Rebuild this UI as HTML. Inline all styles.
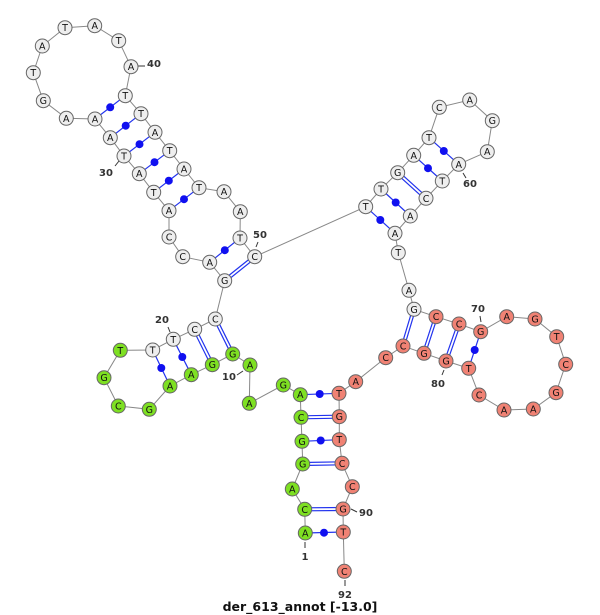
<!DOCTYPE html>
<html><head><meta charset="utf-8"><style>
html,body{margin:0;padding:0;background:#fff;}
svg{display:block}
.n circle{stroke:#666;stroke-width:1}
.w circle{fill:#eeeeee}.g circle{fill:#7ee022}.r circle{fill:#f08274}
.n text{font-family:"DejaVu Sans","Liberation Sans",sans-serif;font-size:9.5px;text-anchor:middle;fill:#111}
.lb{font-family:"DejaVu Sans","Liberation Sans",sans-serif;font-size:10px;font-weight:bold;fill:#333;text-anchor:middle}
.bp{stroke:#2233ee;stroke-width:1.2;fill:none}
.tk{stroke:#333;stroke-width:1}
</style></head><body>
<svg width="600" height="615" viewBox="0 0 600 615" xmlns="http://www.w3.org/2000/svg">
<polyline fill="none" stroke="#888" stroke-width="1" points="305.3,533 304.7,509.3 292.3,489 302.7,464 302,441.3 301,417.3 300.3,394.7 283.3,385 249.3,403.3 250,365 232.7,354 212.3,364.7 191.3,374.7 170,386 149.3,409.3 118.3,406 104,377.7 120.3,350.3 152.7,350 173.3,339.3 194.7,329.3 215.3,319 224.7,280.7 209.7,262.3 182.7,256.7 169,237 169,210.7 153.7,192.3 139.3,173.7 124,156 110.3,137.7 95,119 66.3,118.3 43.3,100.7 33.3,72.7 42.3,46 65,27.7 94.7,25.7 118.7,40.7 131,66.7 125.3,95.7 141,113.7 155,132.3 169.7,150.7 184,169 199,187.7 224,191.7 240.3,211.7 240,238 254.7,256.7 365.7,206.7 381,189 397.7,172.7 413.7,155.3 429,137.7 439.3,107.3 469.7,100 492.3,120.7 487.3,151.7 458.7,164.3 442.3,181 426,198.3 410.3,216 395,233.3 398.3,252.7 409,290.3 414,309.3 436,316.7 459,324 480.7,331.7 506.7,316.7 535,319 556.7,336.7 565.7,364.3 556,392.7 533.3,409 504,410 479,395 468.7,368.3 446,361 424,353.3 403,346 385.7,357.7 355.7,381.7 339,393.3 339.3,416.7 339.3,439.7 342,463.3 352.3,486.7 343,509 343.3,532 344.3,571.3"/>
<g class="bp">
<line x1="305.3" y1="533" x2="343.3" y2="532"/>
<line x1="302" y1="441.3" x2="339.3" y2="439.7"/>
<line x1="300.3" y1="394.7" x2="339" y2="393.3"/>
<line x1="191.3" y1="374.7" x2="173.3" y2="339.3"/>
<line x1="170" y1="386" x2="152.7" y2="350"/>
<line x1="209.7" y1="262.3" x2="240" y2="238"/>
<line x1="169" y1="210.7" x2="199" y2="187.7"/>
<line x1="153.7" y1="192.3" x2="184" y2="169"/>
<line x1="139.3" y1="173.7" x2="169.7" y2="150.7"/>
<line x1="124" y1="156" x2="155" y2="132.3"/>
<line x1="110.3" y1="137.7" x2="141" y2="113.7"/>
<line x1="95" y1="119" x2="125.3" y2="95.7"/>
<line x1="365.7" y1="206.7" x2="395" y2="233.3"/>
<line x1="381" y1="189" x2="410.3" y2="216"/>
<line x1="413.7" y1="155.3" x2="442.3" y2="181"/>
<line x1="429" y1="137.7" x2="458.7" y2="164.3"/>
<line x1="480.7" y1="331.7" x2="468.7" y2="368.3"/>
<!-- doubles -->
<line x1="304.7" y1="507.8" x2="343" y2="507.5"/><line x1="304.7" y1="510.8" x2="343" y2="510.5"/>
<line x1="302.7" y1="462.5" x2="342" y2="461.8"/><line x1="302.7" y1="465.5" x2="342" y2="464.8"/>
<line x1="301" y1="415.8" x2="339.3" y2="415.2"/><line x1="301" y1="418.8" x2="339.3" y2="418.2"/>
<line x1="234" y1="353.3" x2="216.6" y2="318.3"/><line x1="231.4" y1="354.7" x2="214" y2="319.7"/>
<line x1="213.6" y1="364" x2="196" y2="328.6"/><line x1="211" y1="365.4" x2="193.4" y2="330"/>
<line x1="225.6" y1="281.9" x2="255.6" y2="257.9"/><line x1="223.8" y1="279.5" x2="253.8" y2="255.5"/>
<line x1="398.7" y1="171.6" x2="427" y2="197.2"/><line x1="396.7" y1="173.8" x2="425" y2="199.4"/>
<line x1="415.4" y1="309.7" x2="404.4" y2="346.4"/><line x1="412.6" y1="308.9" x2="401.6" y2="345.6"/>
<line x1="437.4" y1="317.1" x2="425.4" y2="353.7"/><line x1="434.6" y1="316.3" x2="422.6" y2="352.9"/>
<line x1="460.4" y1="324.4" x2="447.4" y2="361.4"/><line x1="457.6" y1="323.6" x2="444.6" y2="360.6"/>
</g>
<g fill="#1010f0">
<circle cx="324" cy="532.7" r="4"/><circle cx="320.7" cy="440.5" r="4"/><circle cx="319.7" cy="394" r="4"/>
<circle cx="182.3" cy="357" r="4"/><circle cx="161.3" cy="368" r="4"/><circle cx="224.8" cy="250.2" r="4"/>
<circle cx="184" cy="199.2" r="4"/><circle cx="168.8" cy="180.7" r="4"/><circle cx="154.5" cy="162.2" r="4"/>
<circle cx="139.5" cy="144.2" r="4"/><circle cx="125.7" cy="125.7" r="4"/><circle cx="110.2" cy="107.3" r="4"/>
<circle cx="380.3" cy="220" r="4"/><circle cx="395.7" cy="202.5" r="4"/><circle cx="428" cy="168.2" r="4"/>
<circle cx="443.8" cy="151" r="4"/><circle cx="474.7" cy="350" r="4"/>
</g>
<g class="tk">
<line x1="138" y1="66" x2="145" y2="66"/><line x1="115" y1="166" x2="119" y2="161"/>
<line x1="256" y1="247" x2="258" y2="242"/><line x1="466" y1="178" x2="463" y2="173"/>
<line x1="480" y1="316" x2="481" y2="322"/><line x1="442" y1="375" x2="444" y2="370"/>
<line x1="168" y1="327" x2="170" y2="332"/><line x1="237" y1="375" x2="243" y2="371"/>
<line x1="305" y1="542" x2="305" y2="548"/><line x1="351" y1="509" x2="357" y2="512"/>
<line x1="345" y1="580" x2="345" y2="586"/>
</g>
<g class="lb">
<text x="154" y="67">40</text><text x="106" y="176">30</text><text x="260" y="238">50</text>
<text x="470" y="187">60</text><text x="478" y="312">70</text><text x="438" y="387">80</text>
<text x="162" y="323">20</text><text x="229" y="380">10</text><text x="305" y="560">1</text>
<text x="366" y="516">90</text><text x="345" y="598">92</text>
</g>
<g class="n g"><g transform="translate(305.3,533)"><circle r="7"/><text y="3.5">A</text></g>
<g transform="translate(304.7,509.3)"><circle r="7"/><text y="3.5">C</text></g>
<g transform="translate(292.3,489)"><circle r="7"/><text y="3.5">A</text></g>
<g transform="translate(302.7,464)"><circle r="7"/><text y="3.5">G</text></g>
<g transform="translate(302,441.3)"><circle r="7"/><text y="3.5">G</text></g>
<g transform="translate(301,417.3)"><circle r="7"/><text y="3.5">C</text></g>
<g transform="translate(300.3,394.7)"><circle r="7"/><text y="3.5">A</text></g>
<g transform="translate(283.3,385)"><circle r="7"/><text y="3.5">G</text></g>
<g transform="translate(249.3,403.3)"><circle r="7"/><text y="3.5">A</text></g>
<g transform="translate(250,365)"><circle r="7"/><text y="3.5">A</text></g>
<g transform="translate(232.7,354)"><circle r="7"/><text y="3.5">G</text></g>
<g transform="translate(212.3,364.7)"><circle r="7"/><text y="3.5">G</text></g>
<g transform="translate(191.3,374.7)"><circle r="7"/><text y="3.5">A</text></g>
<g transform="translate(170,386)"><circle r="7"/><text y="3.5">A</text></g>
<g transform="translate(149.3,409.3)"><circle r="7"/><text y="3.5">G</text></g>
<g transform="translate(118.3,406)"><circle r="7"/><text y="3.5">C</text></g>
<g transform="translate(104,377.7)"><circle r="7"/><text y="3.5">G</text></g>
<g transform="translate(120.3,350.3)"><circle r="7"/><text y="3.5">T</text></g></g>
<g class="n w"><g transform="translate(152.7,350)"><circle r="7"/><text y="3.5">T</text></g>
<g transform="translate(173.3,339.3)"><circle r="7"/><text y="3.5">T</text></g>
<g transform="translate(194.7,329.3)"><circle r="7"/><text y="3.5">C</text></g>
<g transform="translate(215.3,319)"><circle r="7"/><text y="3.5">C</text></g>
<g transform="translate(224.7,280.7)"><circle r="7"/><text y="3.5">G</text></g>
<g transform="translate(209.7,262.3)"><circle r="7"/><text y="3.5">A</text></g>
<g transform="translate(182.7,256.7)"><circle r="7"/><text y="3.5">C</text></g>
<g transform="translate(169,237)"><circle r="7"/><text y="3.5">C</text></g>
<g transform="translate(169,210.7)"><circle r="7"/><text y="3.5">A</text></g>
<g transform="translate(153.7,192.3)"><circle r="7"/><text y="3.5">T</text></g>
<g transform="translate(139.3,173.7)"><circle r="7"/><text y="3.5">A</text></g>
<g transform="translate(124,156)"><circle r="7"/><text y="3.5">T</text></g>
<g transform="translate(110.3,137.7)"><circle r="7"/><text y="3.5">A</text></g>
<g transform="translate(95,119)"><circle r="7"/><text y="3.5">A</text></g>
<g transform="translate(66.3,118.3)"><circle r="7"/><text y="3.5">A</text></g>
<g transform="translate(43.3,100.7)"><circle r="7"/><text y="3.5">G</text></g>
<g transform="translate(33.3,72.7)"><circle r="7"/><text y="3.5">T</text></g>
<g transform="translate(42.3,46)"><circle r="7"/><text y="3.5">A</text></g>
<g transform="translate(65,27.7)"><circle r="7"/><text y="3.5">T</text></g>
<g transform="translate(94.7,25.7)"><circle r="7"/><text y="3.5">A</text></g>
<g transform="translate(118.7,40.7)"><circle r="7"/><text y="3.5">T</text></g>
<g transform="translate(131,66.7)"><circle r="7"/><text y="3.5">A</text></g>
<g transform="translate(125.3,95.7)"><circle r="7"/><text y="3.5">T</text></g>
<g transform="translate(141,113.7)"><circle r="7"/><text y="3.5">T</text></g>
<g transform="translate(155,132.3)"><circle r="7"/><text y="3.5">A</text></g>
<g transform="translate(169.7,150.7)"><circle r="7"/><text y="3.5">T</text></g>
<g transform="translate(184,169)"><circle r="7"/><text y="3.5">A</text></g>
<g transform="translate(199,187.7)"><circle r="7"/><text y="3.5">T</text></g>
<g transform="translate(224,191.7)"><circle r="7"/><text y="3.5">A</text></g>
<g transform="translate(240.3,211.7)"><circle r="7"/><text y="3.5">A</text></g>
<g transform="translate(240,238)"><circle r="7"/><text y="3.5">T</text></g>
<g transform="translate(254.7,256.7)"><circle r="7"/><text y="3.5">C</text></g>
<g transform="translate(365.7,206.7)"><circle r="7"/><text y="3.5">T</text></g>
<g transform="translate(381,189)"><circle r="7"/><text y="3.5">T</text></g>
<g transform="translate(397.7,172.7)"><circle r="7"/><text y="3.5">G</text></g>
<g transform="translate(413.7,155.3)"><circle r="7"/><text y="3.5">A</text></g>
<g transform="translate(429,137.7)"><circle r="7"/><text y="3.5">T</text></g>
<g transform="translate(439.3,107.3)"><circle r="7"/><text y="3.5">C</text></g>
<g transform="translate(469.7,100)"><circle r="7"/><text y="3.5">A</text></g>
<g transform="translate(492.3,120.7)"><circle r="7"/><text y="3.5">G</text></g>
<g transform="translate(487.3,151.7)"><circle r="7"/><text y="3.5">A</text></g>
<g transform="translate(458.7,164.3)"><circle r="7"/><text y="3.5">A</text></g>
<g transform="translate(442.3,181)"><circle r="7"/><text y="3.5">T</text></g>
<g transform="translate(426,198.3)"><circle r="7"/><text y="3.5">C</text></g>
<g transform="translate(410.3,216)"><circle r="7"/><text y="3.5">A</text></g>
<g transform="translate(395,233.3)"><circle r="7"/><text y="3.5">A</text></g>
<g transform="translate(398.3,252.7)"><circle r="7"/><text y="3.5">T</text></g>
<g transform="translate(409,290.3)"><circle r="7"/><text y="3.5">A</text></g>
<g transform="translate(414,309.3)"><circle r="7"/><text y="3.5">G</text></g></g>
<g class="n r"><g transform="translate(436,316.7)"><circle r="7"/><text y="3.5">C</text></g>
<g transform="translate(459,324)"><circle r="7"/><text y="3.5">C</text></g>
<g transform="translate(480.7,331.7)"><circle r="7"/><text y="3.5">G</text></g>
<g transform="translate(506.7,316.7)"><circle r="7"/><text y="3.5">A</text></g>
<g transform="translate(535,319)"><circle r="7"/><text y="3.5">G</text></g>
<g transform="translate(556.7,336.7)"><circle r="7"/><text y="3.5">T</text></g>
<g transform="translate(565.7,364.3)"><circle r="7"/><text y="3.5">C</text></g>
<g transform="translate(556,392.7)"><circle r="7"/><text y="3.5">G</text></g>
<g transform="translate(533.3,409)"><circle r="7"/><text y="3.5">A</text></g>
<g transform="translate(504,410)"><circle r="7"/><text y="3.5">A</text></g>
<g transform="translate(479,395)"><circle r="7"/><text y="3.5">C</text></g>
<g transform="translate(468.7,368.3)"><circle r="7"/><text y="3.5">T</text></g>
<g transform="translate(446,361)"><circle r="7"/><text y="3.5">G</text></g>
<g transform="translate(424,353.3)"><circle r="7"/><text y="3.5">G</text></g>
<g transform="translate(403,346)"><circle r="7"/><text y="3.5">C</text></g>
<g transform="translate(385.7,357.7)"><circle r="7"/><text y="3.5">C</text></g>
<g transform="translate(355.7,381.7)"><circle r="7"/><text y="3.5">A</text></g>
<g transform="translate(339,393.3)"><circle r="7"/><text y="3.5">T</text></g>
<g transform="translate(339.3,416.7)"><circle r="7"/><text y="3.5">G</text></g>
<g transform="translate(339.3,439.7)"><circle r="7"/><text y="3.5">T</text></g>
<g transform="translate(342,463.3)"><circle r="7"/><text y="3.5">C</text></g>
<g transform="translate(352.3,486.7)"><circle r="7"/><text y="3.5">C</text></g>
<g transform="translate(343,509)"><circle r="7"/><text y="3.5">G</text></g>
<g transform="translate(343.3,532)"><circle r="7"/><text y="3.5">T</text></g>
<g transform="translate(344.3,571.3)"><circle r="7"/><text y="3.5">C</text></g></g>
<text x="300" y="611" style="font-family:'DejaVu Sans','Liberation Sans',sans-serif;font-size:12.5px;font-weight:bold;text-anchor:middle;fill:#111">der_613_annot [-13.0]</text>
</svg>
</body></html>
